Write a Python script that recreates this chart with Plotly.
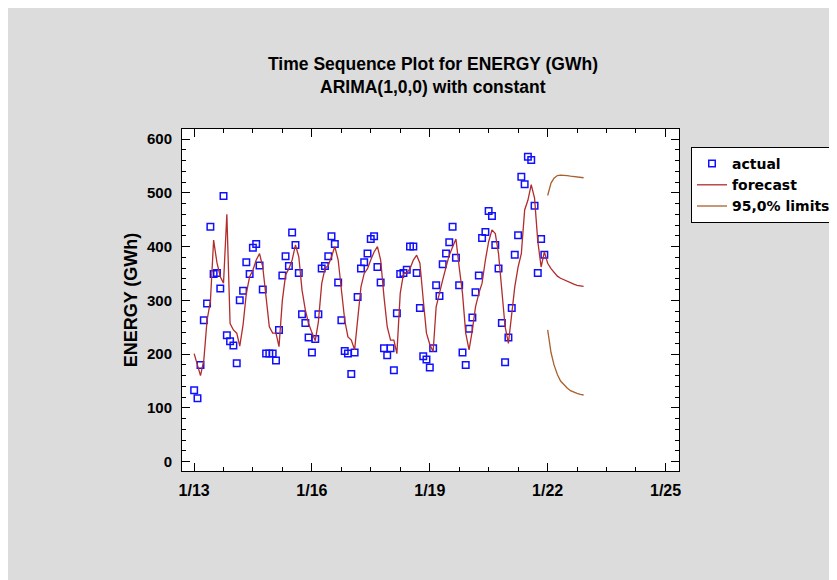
import plotly.graph_objects as go
import pandas as pd

# ---- data ----
ACTUAL = [
    133, 118, 180, 263, 294, 437, 349, 351, 322, 494, 235, 224,   # 2013
    216, 183, 300, 318, 371, 349, 398, 405, 365, 320, 201, 201,   # 2014
    201, 188, 245, 346, 382, 364, 426, 403, 351, 274, 258, 231,   # 2015
    203, 228, 274, 359, 364, 382, 419, 405, 333, 263, 206, 201,   # 2016
    163, 203, 306, 359, 371, 387, 414, 419, 362, 333, 211, 198,   # 2017
    211, 170, 276, 349, 351, 357, 400, 400, 351, 286, 196, 190,   # 2018
    175, 211, 328, 308, 367, 387, 408, 437, 379, 328, 203, 180,   # 2019
    247, 268, 315, 346, 416, 427, 466, 457, 403, 359, 258, 185,   # 2020
    231, 286, 385, 421, 530, 516, 567, 561, 476, 351, 414, 385,   # 2021
]
FITTED = [
    201, 177, 160, 189, 263, 298, 412, 370, 344, 332, 460, 257,
    245, 239, 215, 255, 313, 344, 356, 375, 387, 362, 300, 251,
    239, 239, 214, 300, 347, 359, 375, 403, 381, 319, 282, 257,
    240, 225, 260, 331, 359, 365, 381, 400, 375, 313, 263, 232,
    226, 208, 270, 325, 350, 359, 375, 390, 400, 375, 307, 251,
    226, 226, 201, 313, 349, 351, 359, 375, 384, 369, 301, 239,
    218, 205, 288, 316, 338, 362, 384, 399, 414, 362, 313, 239,
    208, 245, 288, 313, 332, 375, 409, 431, 424, 387, 319, 251,
    220, 276, 325, 362, 387, 468, 486, 515, 490, 410, 362, 390,
]
FORECAST = [369, 359, 352, 345, 341, 338, 335, 332, 330, 328, 327, 326]
UPPER = [495, 518, 527, 532, 533, 533, 532, 531, 530, 529, 528, 528]
LOWER = [245, 203, 180, 162, 150, 143, 137, 132, 129, 127, 125, 124]

TICK_DATES = ["2013-01-01", "2016-01-01", "2019-01-01", "2022-01-01", "2025-01-01"]
TICK_LABELS = ["1/13", "1/16", "1/19", "1/22", "1/25"]
Y_TICKS = [0, 100, 200, 300, 400, 500, 600]

hist_dates = list(pd.date_range("2013-01-01", periods=len(ACTUAL), freq="MS"))
fc_dates = list(pd.date_range("2022-01-01", periods=len(FORECAST), freq="MS"))

FONT = "Liberation Sans, Arial, sans-serif"
LEG_FONT = "DejaVu Sans, Liberation Sans, sans-serif"
RED = "#B22C2C"
BROWN = "#A8602E"

fig = go.Figure()
fig.add_trace(go.Scatter(
    x=hist_dates, y=ACTUAL, mode="markers", name="actual",
    marker=dict(symbol="square-open", size=6.5, color="#1010FF",
                line=dict(width=1.5, color="#1010FF")),
))
fig.add_trace(go.Scatter(
    x=hist_dates + fc_dates, y=FITTED + FORECAST, mode="lines", name="forecast",
    line=dict(color=RED, width=1.3),
))
fig.add_trace(go.Scatter(
    x=fc_dates + [None] + fc_dates, y=UPPER + [None] + LOWER, mode="lines",
    name="95,0% limits", line=dict(color=BROWN, width=1.3), connectgaps=False,
))

# page has an 8px body margin, so the figure sits at (8, 8) on screen
W, H = 837, 580
L, R, T, B = 174, 671, 121, 463

def px(xp):
    return (xp - L) / (R - L)

def py(yp):
    return (B - yp) / (B - T)

fig.update_layout(
    width=W, height=H,
    margin=dict(l=L, r=W - R, t=T, b=H - B, pad=0, autoexpand=False),
    paper_bgcolor="#DCDCDC", plot_bgcolor="white",
    font=dict(family=FONT, size=15, color="black"),
    showlegend=True,
    legend=dict(
        x=px(683), y=py(139), xanchor="left", yanchor="top",
        bgcolor="white", bordercolor="black", borderwidth=1,
        font=dict(family=LEG_FONT, size=14, color="black", weight="bold"),
        tracegroupgap=0, itemwidth=30,
    ),
    annotations=[
        dict(text="Time Sequence Plot for ENERGY (GWh)", x=px(425), y=py(56),
             xref="paper", yref="paper", showarrow=False,
             xanchor="center", yanchor="middle",
             font=dict(family=FONT, size=17.5, weight="bold")),
        dict(text="ARIMA(1,0,0) with constant", x=px(425), y=py(79),
             xref="paper", yref="paper", showarrow=False,
             xanchor="center", yanchor="middle",
             font=dict(family=FONT, size=17.5, weight="bold")),
    ],
)

fig.update_xaxes(
    type="date", range=["2012-09-10", "2025-05-06"],
    tickvals=TICK_DATES, ticktext=TICK_LABELS,
    ticks="inside", ticklen=8, tickwidth=1, tickcolor="black",
    minor=dict(dtick="M9", tick0="2013-01-01", ticks="inside", ticklen=4,
               tickcolor="black", showgrid=False),
    showline=True, linecolor="black", linewidth=1, mirror="allticks",
    showgrid=False, zeroline=False,
    tickfont=dict(family=FONT, size=16, weight="bold"),
    ticklabelstandoff=5,
)
fig.update_yaxes(
    range=[-17.3, 618.6], tickvals=Y_TICKS,
    ticks="inside", ticklen=8, tickwidth=1, tickcolor="black",
    minor=dict(dtick=20, ticks="inside", ticklen=4, tickcolor="black",
               showgrid=False),
    showline=True, linecolor="black", linewidth=1, mirror="allticks",
    showgrid=False, zeroline=False,
    tickfont=dict(family=FONT, size=15, weight="bold"),
    ticklabelstandoff=6,
    title=dict(text="ENERGY (GWh)", standoff=4,
               font=dict(family=FONT, size=18, weight="bold")),
)

fig.write_html("out.html")
